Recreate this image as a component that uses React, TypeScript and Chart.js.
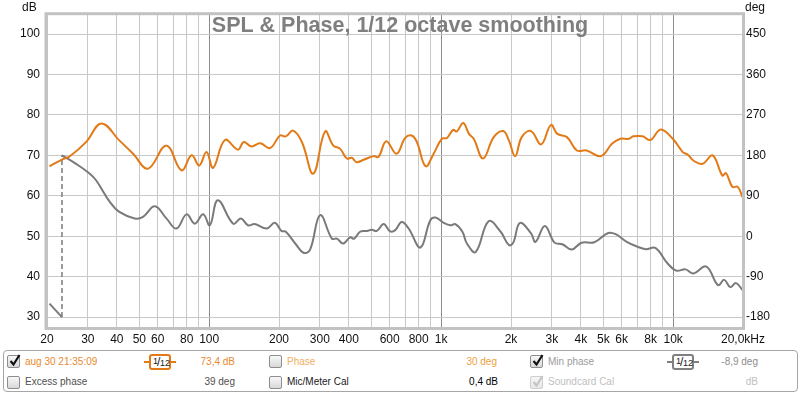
import React, { useEffect, useRef } from "react";
import { Chart, registerables } from "chart.js";
Chart.register(...registerables);

// ---- data ----
const splFreq = [20.5, 23.3, 25, 29.6, 34.3, 41, 47, 54.5, 65.4, 76, 84, 90.6, 97.4, 104, 117, 133, 141, 152, 166, 183, 202, 214, 230, 251, 281, 316, 343, 367, 392, 412, 432, 463, 512, 537, 580, 642, 700, 746, 786, 857, 928, 1007, 1059, 1127, 1168, 1245, 1318, 1382, 1516, 1685, 1852, 1958, 2085, 2225, 2440, 2697, 2972, 3168, 3485, 3846, 4233, 4880, 5460, 5920, 6450, 6735, 7378, 7980, 8840, 9960, 11000, 11540, 12300, 13400, 14800, 16300, 16900, 18000, 18980, 19900];
const splDb = [67.3, 69.0, 69.7, 73.4, 77.9, 73.7, 70.4, 66.7, 72.4, 66.3, 70.0, 67.5, 70.8, 66.9, 73.8, 71.4, 73.3, 72.2, 73.0, 71.8, 74.9, 74.7, 76.1, 73.3, 65.5, 75.9, 72.4, 71.6, 69.2, 69.4, 68.3, 68.9, 69.8, 69.6, 73.5, 70.4, 74.3, 74.9, 73.3, 67.3, 70.4, 74.1, 74.3, 76.3, 75.9, 78.0, 75.3, 74.1, 69.2, 74.5, 76.0, 73.7, 69.8, 74.5, 76.0, 72.7, 77.5, 75.3, 74.5, 71.2, 71.2, 69.8, 72.9, 74.1, 74.1, 74.7, 74.7, 73.8, 76.4, 74.1, 70.8, 70.2, 68.6, 67.9, 70.0, 65.0, 65.6, 62.2, 62.2, 59.7];

// phase before the wrap at -180 deg
const phaseLowFreq = [20.5, 23.2];
const phaseLowDeg = [-150, -180];
// phase after the wrap (starts at +180)
const phaseFreq = [23.2, 26.7, 30.5, 32.6, 37.3, 41, 47.8, 51.9, 58.3, 65.4, 72.3, 79.9, 86.7, 94.2, 100.7, 109, 127, 137, 147, 157, 177, 192, 205, 214, 235, 255, 272, 301, 338, 355, 378, 405, 422, 447, 479, 502, 528, 565, 603, 634, 676, 724, 814, 897, 945, 1026, 1096, 1151, 1235, 1291, 1409, 1602, 1805, 1958, 2045, 2186, 2440, 2550, 2800, 3080, 3328, 3655, 4030, 4570, 5250, 5655, 6310, 6960, 7620, 8380, 9450, 10300, 11300, 12200, 13900, 15600, 16610, 17630, 18660, 19900];
const phaseDeg = [180, 161, 139.5, 124, 76.5, 54, 39.6, 43.2, 66.6, 39.6, 17.1, 48.6, 27.9, 48.6, 24.3, 80.1, 27.9, 39.6, 24.3, 27, 17.1, 29.7, 11.7, 9.9, -16.2, -36.9, -30.6, 46.8, -5.4, -5.4, -16.2, -2.7, -5.4, 9.9, 11.7, 14.4, 11.7, 27, 10.8, 13.5, 31.5, 17.1, -25.2, 35.1, 41.4, 29.7, 24.3, 27, 9.9, -16.2, -35.1, 33.3, 9.9, -19.8, -14.4, 29.7, 6.3, -12.6, 22.5, -14.4, -18, -29.7, -14.4, -13.5, 7.2, 4.5, -12.6, -22.5, -28.8, -26.1, -60.3, -76.5, -73.8, -82.8, -67.5, -108.9, -97.2, -113.4, -104.4, -119.7];

const xGridValues = [20, 30, 40, 50, 60, 70, 80, 90, 100, 200, 300, 400, 500, 600, 700, 800, 900, 1000, 2000, 3000, 4000, 5000, 6000, 7000, 8000, 9000, 10000, 20000];
const xMajorValues = [100, 1000, 10000];
const xLabelValues = [20, 30, 40, 50, 60, 80, 100, 200, 300, 400, 600, 800, 1000, 2000, 3000, 4000, 5000, 6000, 8000, 10000, 20000];
const xLabelTexts = ["20", "30", "40", "50", "60", "80", "100", "200", "300", "400", "600", "800", "1k", "2k", "3k", "4k", "5k", "6k", "8k", "10k", "20,0kHz"];
const dbTicks = [30, 40, 50, 60, 70, 80, 90, 100];
const degTicks = [-180, -90, 0, 90, 180, 270, 360, 450];

const DB_MIN = 27.3;
const DB_MAX = 104.9;
const toDeg = (db: number) => (db - 30) * 9 - 180;

const ORANGE = "#e27a17";
const GRAY = "#7a7a7a";
const FONT = "'Liberation Sans', Arial, sans-serif";

const framePlugin = {
  id: "frame",
  afterDraw(chart: any) {
    const { ctx, chartArea } = chart;
    const { left, top, right, bottom } = chartArea;
    ctx.save();
    // title
    ctx.font = `bold 21.5px ${FONT}`;
    ctx.fillStyle = "#7f7f7f";
    ctx.textAlign = "center";
    ctx.textBaseline = "alphabetic";
    ctx.fillText("SPL & Phase, 1/12 octave smoothing", 400, 31.5);
    // unit labels
    ctx.font = `12px ${FONT}`;
    ctx.fillStyle = "#111";
    ctx.textAlign = "left";
    ctx.fillText("dB", 22, 10.5);
    ctx.fillText("deg", 745, 10.5);
    // frame
    ctx.strokeStyle = "#c2c2c2";
    ctx.lineWidth = 3;
    ctx.strokeRect(left - 1, top - 0.5, right - left + 1.5, bottom - top + 1);
    ctx.restore();
  },
};

function Checkbox({ x, y, checked, disabled }: { x: number; y: number; checked?: boolean; disabled?: boolean }) {
  return (
    <div
      style={{
        position: "absolute",
        left: x,
        top: y,
        width: 11,
        height: 11,
        border: `1px solid ${disabled ? "#cfcfcf" : "#8e8e8e"}`,
        borderRadius: 2,
        background: disabled ? "linear-gradient(#f6f6f6,#e8e8e8)" : "linear-gradient(#f8f8f8,#d8d8d8)",
      }}
    >
      {checked && (
        <svg width="14" height="14" style={{ position: "absolute", left: 0, top: -3 }}>
          <path d="M2.5 8 L5.5 11.5 L11.5 2" stroke={disabled ? "#c4c4c4" : "#111"} strokeWidth="2.2" fill="none" />
        </svg>
      )}
    </div>
  );
}

function Text({ x, y, text, color, align }: { x: number; y: number; text: string; color: string; align?: "right" }) {
  const style: any = {
    position: "absolute",
    top: y - 6,
    font: `10px ${FONT}`,
    lineHeight: "12px",
    color,
    whiteSpace: "nowrap",
  };
  if (align === "right") style.right = 800 - x;
  else style.left = x;
  return <div style={style}>{text}</div>;
}

function SmoothIcon({ x, y, color }: { x: number; y: number; color: string }) {
  return (
    <div style={{ position: "absolute", left: x, top: y - 7, width: 32, height: 15 }}>
      <div style={{ position: "absolute", left: 0, top: 6, width: 32, height: 2, background: color }} />
      <div
        style={{
          position: "absolute",
          left: 5,
          top: -1,
          width: 18,
          height: 12,
          border: `2px solid ${color}`,
          borderRadius: 3,
          background: "#fff",
          font: `9px ${FONT}`,
          color: "#222",
        }}
      >
        <span style={{ position: "absolute", left: 2, top: 0, fontSize: 9 }}>1</span>
        <span style={{ position: "absolute", left: 6, top: -1, fontSize: 12 }}>/</span>
        <span style={{ position: "absolute", left: 9, top: 2, fontSize: 9 }}>12</span>
      </div>
    </div>
  );
}

export default function App() {
  const canvasRef = useRef<HTMLCanvasElement | null>(null);

  useEffect(() => {
    const canvas = canvasRef.current;
    if (!canvas) return;
    const fontSpec = { family: FONT, size: 12 };
    const chart = new Chart(canvas, {
      type: "line",
      data: {
        datasets: [
          {
            label: "SPL",
            data: splFreq.map((f, i) => ({ x: f, y: splDb[i] })),
            yAxisID: "y",
            borderColor: ORANGE,
            borderWidth: 2,
            pointRadius: 0,
            tension: 0.4,
            fill: false,
          },
          {
            label: "PhaseLow",
            data: phaseLowFreq.map((f, i) => ({ x: f, y: phaseLowDeg[i] })),
            yAxisID: "y2",
            borderColor: GRAY,
            borderWidth: 2,
            pointRadius: 0,
            tension: 0,
            fill: false,
          },
          {
            label: "Wrap",
            data: [
              { x: phaseLowFreq[phaseLowFreq.length - 1], y: phaseLowDeg[phaseLowDeg.length - 1] },
              { x: phaseFreq[0], y: phaseDeg[0] },
            ],
            yAxisID: "y2",
            borderColor: GRAY,
            borderWidth: 1.5,
            borderDash: [5, 3],
            pointRadius: 0,
            tension: 0,
            fill: false,
          },
          {
            label: "Phase",
            data: phaseFreq.map((f, i) => ({ x: f, y: phaseDeg[i] })),
            yAxisID: "y2",
            borderColor: GRAY,
            borderWidth: 2,
            pointRadius: 0,
            tension: 0.4,
            fill: false,
          },
        ],
      },
      options: {
        animation: false,
        responsive: false,
        layout: { padding: { top: 13, left: 0, right: 0, bottom: 0 } },
        plugins: { legend: { display: false }, tooltip: { enabled: false }, title: { display: false } },
        scales: {
          x: {
            type: "logarithmic",
            min: 20,
            max: 20000,
            afterBuildTicks: (ax: any) => {
              ax.ticks = xGridValues.map((v) => ({ value: v }));
            },
            afterFit: (ax: any) => {
              ax.height = 20;
            },
            grid: {
              drawTicks: false,
              lineWidth: 1,
              color: (ctx: any) =>
                ctx.tick && xMajorValues.includes(ctx.tick.value) ? "#8c8c8c" : "#c8c8c8",
            },
            border: { display: false },
            ticks: {
              autoSkip: false,
              maxRotation: 0,
              minRotation: 0,
              padding: 4,
              color: "#111",
              font: fontSpec,
              callback: (v: any) => {
                const i = xLabelValues.indexOf(Number(v));
                return i >= 0 ? xLabelTexts[i] : "";
              },
            },
          },
          y: {
            position: "left",
            min: DB_MIN,
            max: DB_MAX,
            afterBuildTicks: (ax: any) => {
              ax.ticks = dbTicks.map((v) => ({ value: v }));
            },
            afterFit: (ax: any) => {
              ax.width = 47;
            },
            grid: { drawTicks: false, color: "#c8c8c8", lineWidth: 1 },
            border: { display: false },
            ticks: { padding: 7, color: "#111", font: fontSpec },
          },
          y2: {
            position: "right",
            min: toDeg(DB_MIN),
            max: toDeg(DB_MAX),
            afterBuildTicks: (ax: any) => {
              ax.ticks = degTicks.map((v) => ({ value: v }));
            },
            afterFit: (ax: any) => {
              ax.width = 57;
            },
            grid: { display: false, drawTicks: false },
            border: { display: false },
            ticks: { padding: 3, color: "#111", font: fontSpec },
          },
        },
      } as any,
      plugins: [framePlugin],
    });
    return () => chart.destroy();
  }, []);

  return (
    <div style={{ position: "fixed", left: 0, top: 0, width: 800, height: 394, background: "#fff", overflow: "hidden" }}>
      <canvas ref={canvasRef} width={800} height={348} style={{ display: "block", width: 800, height: 348 }} />
      <div
        style={{
          position: "absolute",
          left: 3,
          top: 350,
          width: 793,
          height: 40,
          border: "1px solid #a6a6a6",
          borderRadius: 4,
        }}
      />
      {/* row 1 */}
      <Checkbox x={7} y={355} checked />
      <Text x={25} y={362} text="aug 30 21:35:09" color="#e8892f" />
      <SmoothIcon x={144} y={362} color={ORANGE} />
      <Text x={235} y={362} text="73,4 dB" color="#e8892f" align="right" />
      <Checkbox x={269} y={355} />
      <Text x={287} y={362} text="Phase" color="#f2b060" />
      <Text x={497} y={362} text="30 deg" color="#eea040" align="right" />
      <Checkbox x={530} y={355} checked />
      <Text x={548} y={362} text="Min phase" color="#9c9c9c" />
      <SmoothIcon x={667} y={362} color="#808080" />
      <Text x={758} y={362} text="-8,9 deg" color="#8c8c8c" align="right" />
      {/* row 2 */}
      <Checkbox x={7} y={376} />
      <Text x={25} y={382} text="Excess phase" color="#505050" />
      <Text x={235} y={382} text="39 deg" color="#505050" align="right" />
      <Checkbox x={269} y={376} />
      <Text x={287} y={382} text="Mic/Meter Cal" color="#1a1a1a" />
      <Text x={498} y={382} text="0,4 dB" color="#000" align="right" />
      <Checkbox x={530} y={376} checked disabled />
      <Text x={548} y={382} text="Soundcard Cal" color="#c0c0c0" />
      <Text x={758} y={382} text="dB" color="#c0c0c0" align="right" />
    </div>
  );
}
